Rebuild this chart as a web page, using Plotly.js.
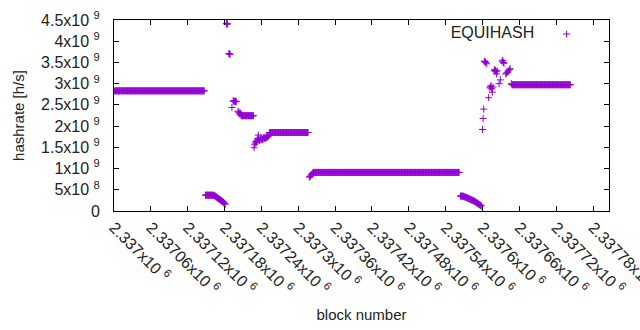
<!DOCTYPE html>
<html>
<head>
<meta charset="utf-8">
<script src="https://cdn.plot.ly/plotly-3.0.1.min.js"></script>
<style>html,body{margin:0;padding:0;background:#fff;}#chart{width:640px;height:330px;}</style>
</head>
<body>
<div id="chart"></div>
<script>
// ---- data (block offsets from 2337000, hashrate in units of 1e9 h/s) ----
const blockBase = 2337000;
const hashScale = 1e9;

// Flat runs of constant hashrate: start block, end block, value
const runStart = [1, 207, 253, 325, 648];
const runEnd   = [147, 227, 316, 562, 743];
const runValue = [2.831, 2.245, 1.849, 0.909, 2.975];

// Irregular points read individually
const pointBlocks = [
  149,150,151,152,153,154,155,156,157,158,159,160,161,162,163,
  164,165,166,167,168,169,170,171,172,173,174,175,176,177,178,179,180,181,
  183,184,185, 187,188,189, 192,
  194,195,196,197,198,199,
  202,203,204,205,206,
  228,229,230,231,232,233,234,235,236,237,238,239,240,241,242,243,244,245,246,247,248,249,250,251,252,
  318,319,320,321,322,323,324,
  564,565,566,567,568,569,570,571,572,573,574,575,576,577,578,579,580,581,582,583,584,585,586,587,588,589,590,591,592,593,594,595,596,597,598,
  600,601,602,603,604,605,607,610,612,613,614,615,616,617,619,620,621,622,623,624,627,629,632,633,634,635,638,639,641,642,644,645,647
];
const pointValues = [
  0.37,0.38,0.37,0.37,0.38,0.37,0.37,0.37,0.38,0.37,0.37,0.37,0.38,0.37,0.36,
  0.36,0.35,0.33,0.33,0.31,0.30,0.30,0.28,0.27,0.27,0.25,0.24,0.23,0.22,0.21,0.19,0.18,0.16,
  4.42,4.40,4.41, 3.71,3.70,3.69, 2.44,
  2.59,2.60,2.58,2.57,2.59,2.58,
  2.35,2.33,2.31,2.28,2.30,
  1.49,1.56,1.60,1.64,1.62,1.67,1.71,1.79,1.70,1.66,1.68,1.72,1.69,1.71,1.68,1.73,1.70,1.72,1.74,1.71,1.75,1.73,1.76,1.75,1.78,
  0.80,0.81,0.82,0.85,0.86,0.88,0.90,
  0.35,0.36,0.35,0.35,0.34,0.35,0.34,0.33,0.33,0.32,0.32,0.31,0.30,0.30,0.29,0.28,0.28,0.27,0.26,0.26,0.25,0.24,0.24,0.23,0.22,0.21,0.20,0.19,0.18,0.17,0.16,0.15,0.14,0.13,0.12,
  1.92,2.18,2.40,3.53,3.52,3.50,3.47,2.67,2.90,2.93,2.95,2.88,2.80,2.92,3.30,3.33,3.31,3.28,3.23,3.30,3.00,3.09,3.53,3.55,3.50,3.48,3.23,3.25,3.27,3.30,3.33,3.35,3.00
];

// Tick labels
const xTickOffsets = [0,60,120,180,240,300,360,420,480,540,600,660,720,780];
const xTickLabels = ['2.337x10','2.33706x10','2.33712x10','2.33718x10','2.33724x10','2.3373x10','2.33736x10',
  '2.33742x10','2.33748x10','2.33754x10','2.3376x10','2.33766x10','2.33772x10','2.33778x10'];
const xTickExp = ['6','6','6','6','6','6','6','6','6','6','6','6','6','6'];
const yTickValues = [0,0.5,1,1.5,2,2.5,3,3.5,4,4.5];
const yTickMant = ['0','5x10','1x10','1.5x10','2x10','2.5x10','3x10','3.5x10','4x10','4.5x10'];
const yTickExp  = ['','8','9','9','9','9','9','9','9','9'];

// ---- build the series ----
const xs = [], ys = [];
for (let i = 0; i < runStart.length; i++) {
  for (let b = runStart[i]; b <= runEnd[i]; b++) { xs.push(blockBase + b); ys.push(runValue[i] * hashScale); }
}
for (let i = 0; i < pointBlocks.length; i++) { xs.push(blockBase + pointBlocks[i]); ys.push(pointValues[i] * hashScale); }

const NB = '\u00a0';
const color = '#9400d3';
const fam = 'Liberation Sans, Arial, sans-serif';
const font = {family: fam, size: 15, color: '#222'};
const tickFont = {family: fam, size: 16, color: '#222'};

const trace = {
  type: 'scatter', mode: 'markers', x: xs, y: ys, name: ' ', showlegend: true,
  marker: {symbol: 'cross-thin', size: 5, color: color, line: {color: color, width: 1}},
  hoverinfo: 'skip'
};

const layout = {
  width: 640, height: 330,
  margin: {l: 114, r: 31, t: 20, b: 119, pad: 0},
  paper_bgcolor: '#fff', plot_bgcolor: '#fff',
  font: font,
  showlegend: true,
  legend: {
    x: 0.975, y: 1.015, xanchor: 'right', yanchor: 'top',
    bgcolor: 'rgba(0,0,0,0)', borderwidth: 0,
    title: {text: 'EQUIHASH' + NB, side: 'left', font: tickFont},
    font: tickFont
  },
  xaxis: {
    range: [blockBase, blockBase + 806],
    tickmode: 'array',
    tickvals: xTickOffsets.map(v => blockBase + v),
    ticktext: xTickLabels.map((t, i) => t + NB + '<sup>' + xTickExp[i] + '</sup>'),
    tickangle: 45,
    ticklabeloverflow: 'allow',
    ticks: 'inside', ticklen: 5, tickwidth: 1, tickcolor: '#000',
    showline: true, linecolor: '#000', linewidth: 1, mirror: 'ticks',
    showgrid: false, zeroline: false,
    tickfont: tickFont,
    title: {text: 'block number', font: font, standoff: 12},
    automargin: false
  },
  yaxis: {
    range: [0, 4.5e9],
    tickmode: 'array',
    tickvals: yTickValues.map(v => v * hashScale),
    ticktext: yTickMant.map((t, i) => yTickExp[i] ? t + NB + '<sup>' + yTickExp[i] + '</sup>' : t),
    ticks: 'inside', ticklen: 5, tickwidth: 1, tickcolor: '#000',
    showline: true, linecolor: '#000', linewidth: 1, mirror: 'ticks',
    showgrid: false, zeroline: false,
    tickfont: tickFont,
    ticklabelstandoff: 10,
    title: {text: 'hashrate [h/s]', font: font, standoff: 12},
    automargin: false
  }
};

Plotly.newPlot('chart', [trace], layout, {displayModeBar: false, staticPlot: true});
</script>
</body>
</html>
